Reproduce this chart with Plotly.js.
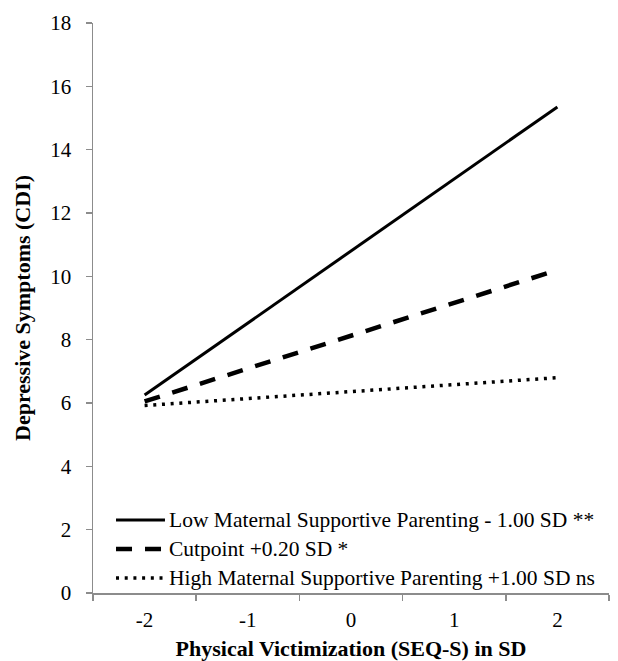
<!DOCTYPE html>
<html>
<head>
<meta charset="utf-8">
<script src="https://cdn.plot.ly/plotly-3.0.1.min.js"></script>
<style>html,body{margin:0;padding:0;background:#fff;}#chart{width:618px;height:661px;}</style>
</head>
<body>
<div id="chart"></div>
<script>
const categories = ["-2", "-1", "0", "1", "2"];
const xEnds = ["-2", "2"];
const lowSupport = [6.25, 15.35];
const cutpoint = [6.05, 10.2];
const highSupport = [5.92, 6.8];
const seriesNames = [
  "Low Maternal Supportive Parenting - 1.00 SD **",
  "Cutpoint +0.20 SD *",
  "High Maternal Supportive Parenting +1.00 SD ns"
];
const yTicks = [0, 2, 4, 6, 8, 10, 12, 14, 16, 18];

const serif = "Liberation Serif, Times New Roman, serif";
const styles = [
  {color: "#000", width: 3},
  {color: "#000", width: 4.5, dash: "16px,13px"},
  {color: "#000", width: 3.5, dash: "3px,5.7px"}
];
const series = [lowSupport, cutpoint, highSupport];
const traces = series.map((ys, i) => ({
  x: xEnds, y: ys, name: seriesNames[i], mode: "lines", line: styles[i], showlegend: false
}));

// Legend drawn inside the plot area (line sample + label)
const legendRowsY = [0.128, 0.0772, 0.0263];
const shapes = [];
const annotations = [];
seriesNames.forEach((name, i) => {
  shapes.push({type: "line", xref: "paper", yref: "paper",
    x0: 0.0446, x1: 0.1395, y0: legendRowsY[i], y1: legendRowsY[i],
    line: styles[i]});
  annotations.push({xref: "paper", yref: "paper", x: 0.143, y: legendRowsY[i],
    xanchor: "left", yanchor: "middle", showarrow: false, text: name,
    font: {family: serif, size: 21.5, color: "#000"}});
});

const layout = {
  width: 618, height: 661,
  margin: {l: 93, r: 9, t: 23, b: 68},
  paper_bgcolor: "#fff", plot_bgcolor: "#fff",
  showlegend: false,
  shapes: shapes,
  annotations: annotations,
  xaxis: {
    type: "category", categoryorder: "array", categoryarray: categories,
    tickvals: categories, ticktext: categories,
    range: [-0.5, 4.5], tickson: "boundaries",
    showline: true, linecolor: "#8c8c8c", linewidth: 1.5,
    ticks: "outside", ticklen: 6, tickcolor: "#8c8c8c", tickwidth: 1.5,
    showgrid: false, zeroline: false, automargin: false,
    ticklabelstandoff: 7,
    tickfont: {family: serif, size: 21, color: "#000"},
    title: {text: "<b>Physical Victimization (SEQ-S) in SD</b>", font: {family: serif, size: 22, color: "#000"}, standoff: 12}
  },
  yaxis: {
    range: [0, 18], tickvals: yTicks,
    showline: true, linecolor: "#8c8c8c", linewidth: 1.5,
    ticks: "outside", ticklen: 6, tickcolor: "#8c8c8c", tickwidth: 1.5,
    showgrid: false, zeroline: false, automargin: false,
    ticklabelstandoff: 10,
    tickfont: {family: serif, size: 21, color: "#000"},
    title: {text: "<b>Depressive Symptoms (CDI)</b>", font: {family: serif, size: 22, color: "#000"}, standoff: 13}
  }
};
Plotly.newPlot("chart", traces, layout, {displayModeBar: false, staticPlot: true});
</script>
</body>
</html>
